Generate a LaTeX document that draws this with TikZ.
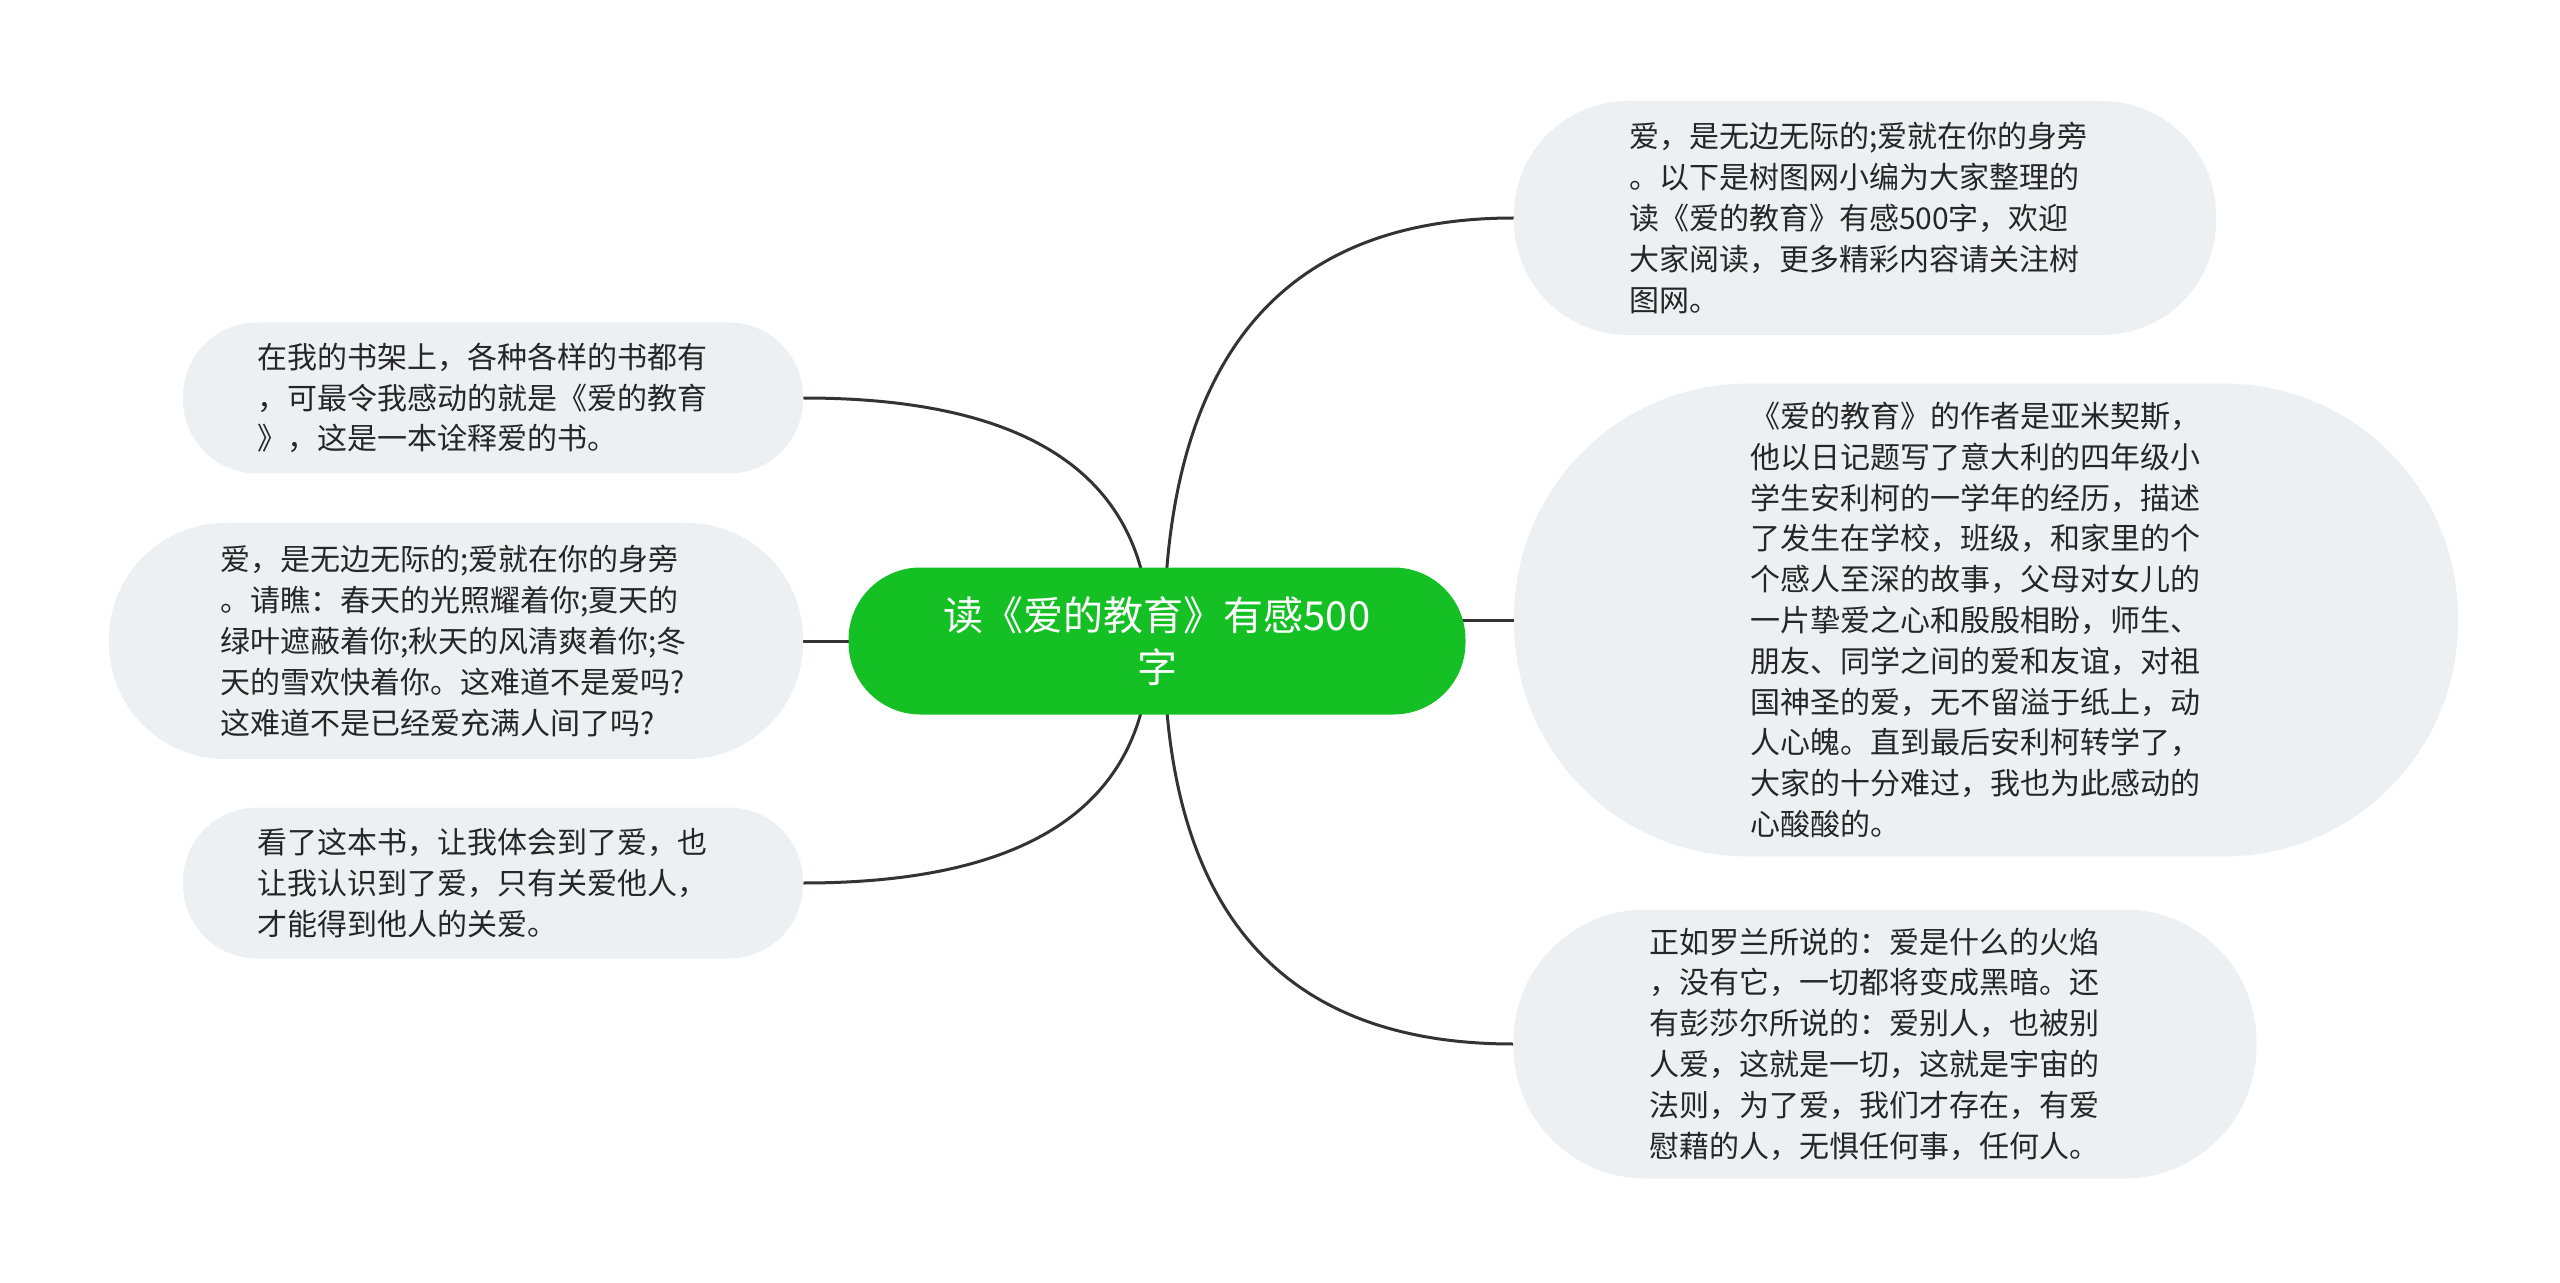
\documentclass[tikz,border=0pt]{standalone}
\usepackage{fontspec}
\setmainfont{Noto Sans CJK SC}
\usetikzlibrary{backgrounds}
\definecolor{bubblegrey}{RGB}{237,240,243}
\definecolor{rootgreen}{RGB}{20,192,36}
\definecolor{linegrey}{RGB}{51,51,51}

\begin{document}
\begin{tikzpicture}[x=0.5pt,y=-0.5pt]
	\tikzstyle{centre} = [fill=rootgreen,text=white,rounded corners=36pt,minimum width=308.5pt,minimum height=73.5pt,inner sep=0pt,align=center,font=\fontsize{20}{26}\selectfont]
	\tikzstyle{topic} = [fill=bubblegrey,text=black!85,inner sep=0pt,text width=236pt,align=left,font=\fontsize{15}{20.4}\selectfont]
	\tikzstyle{connector} = [draw=linegrey,line width=1.5pt]
	\useasboundingbox (0,0) rectangle (2560,1283);
	% central topic
	\node[centre] (root) at (1157,641) {读《爱的教育》有感500\\字};
	\coordinate (hubL) at ([xshift=-3.5pt]root.center);
	\coordinate (hubR) at ([xshift=3.5pt]root.center);
	% left branches
	\node[topic,minimum width=310pt,minimum height=75.5pt,rounded corners=37pt] (left1) at (493,398)
		{在我的书架上，各种各样的书都有\\，可最令我感动的就是《爱的教育\\》，这是一本诠释爱的书。};
	\node[topic,minimum width=347pt,minimum height=118pt,rounded corners=58pt] (left2) at (456,641)
		{爱，是无边无际的;爱就在你的身旁\\。请瞧：春天的光照耀着你;夏天的\\绿叶遮蔽着你;秋天的风清爽着你;冬\\天的雪欢快着你。这难道不是爱吗?\\这难道不是已经爱充满人间了吗?};
	\node[topic,minimum width=310pt,minimum height=75.5pt,rounded corners=37pt] (left3) at (493,883)
		{看了这本书，让我体会到了爱，也\\让我认识到了爱，只有关爱他人，\\才能得到他人的关爱。};
	% right branches
	\node[topic,minimum width=351pt,minimum height=117pt,rounded corners=57pt] (right1) at (1865,218)
		{爱，是无边无际的;爱就在你的身旁\\。以下是树图网小编为大家整理的\\读《爱的教育》有感500字，欢迎\\大家阅读，更多精彩内容请关注树\\图网。};
	\node[topic,minimum width=472pt,minimum height=236.5pt,rounded corners=117pt] (right2) at (1986,620)
		{《爱的教育》的作者是亚米契斯，\\他以日记题写了意大利的四年级小\\学生安利柯的一学年的经历，描述\\了发生在学校，班级，和家里的个\\个感人至深的故事，父母对女儿的\\一片挚爱之心和殷殷相盼，师生、\\朋友、同学之间的爱和友谊，对祖\\国神圣的爱，无不留溢于纸上，动\\人心魄。直到最后安利柯转学了，\\大家的十分难过，我也为此感动的\\心酸酸的。};
	\node[topic,minimum width=371.5pt,minimum height=134.5pt,rounded corners=66pt] (right3) at (1885,1044)
		{正如罗兰所说的：爱是什么的火焰\\，没有它，一切都将变成黑暗。还\\有彭莎尔所说的：爱别人，也被别\\人爱，这就是一切，这就是宇宙的\\法则，为了爱，我们才存在，有爱\\慰藉的人，无惧任何事，任何人。};
	% connectors behind the central topic
	\begin{scope}[on background layer]
		\draw[connector] (hubL) .. controls +(0,-162) and +(231,0) .. (left1.east);
		\draw[connector] (root.center) -- (left2.east);
		\draw[connector] (hubL) .. controls +(0,161) and +(231,0) .. (left3.east);
		\draw[connector] (hubR) .. controls +(0,-282) and +(-233,0) .. (right1.west);
		\draw[connector] (root.center |- right2.west) -- (right2.west);
		\draw[connector] (hubR) .. controls +(0,269) and +(-233,0) .. (right3.west);
	\end{scope}
\end{tikzpicture}
\end{document}
